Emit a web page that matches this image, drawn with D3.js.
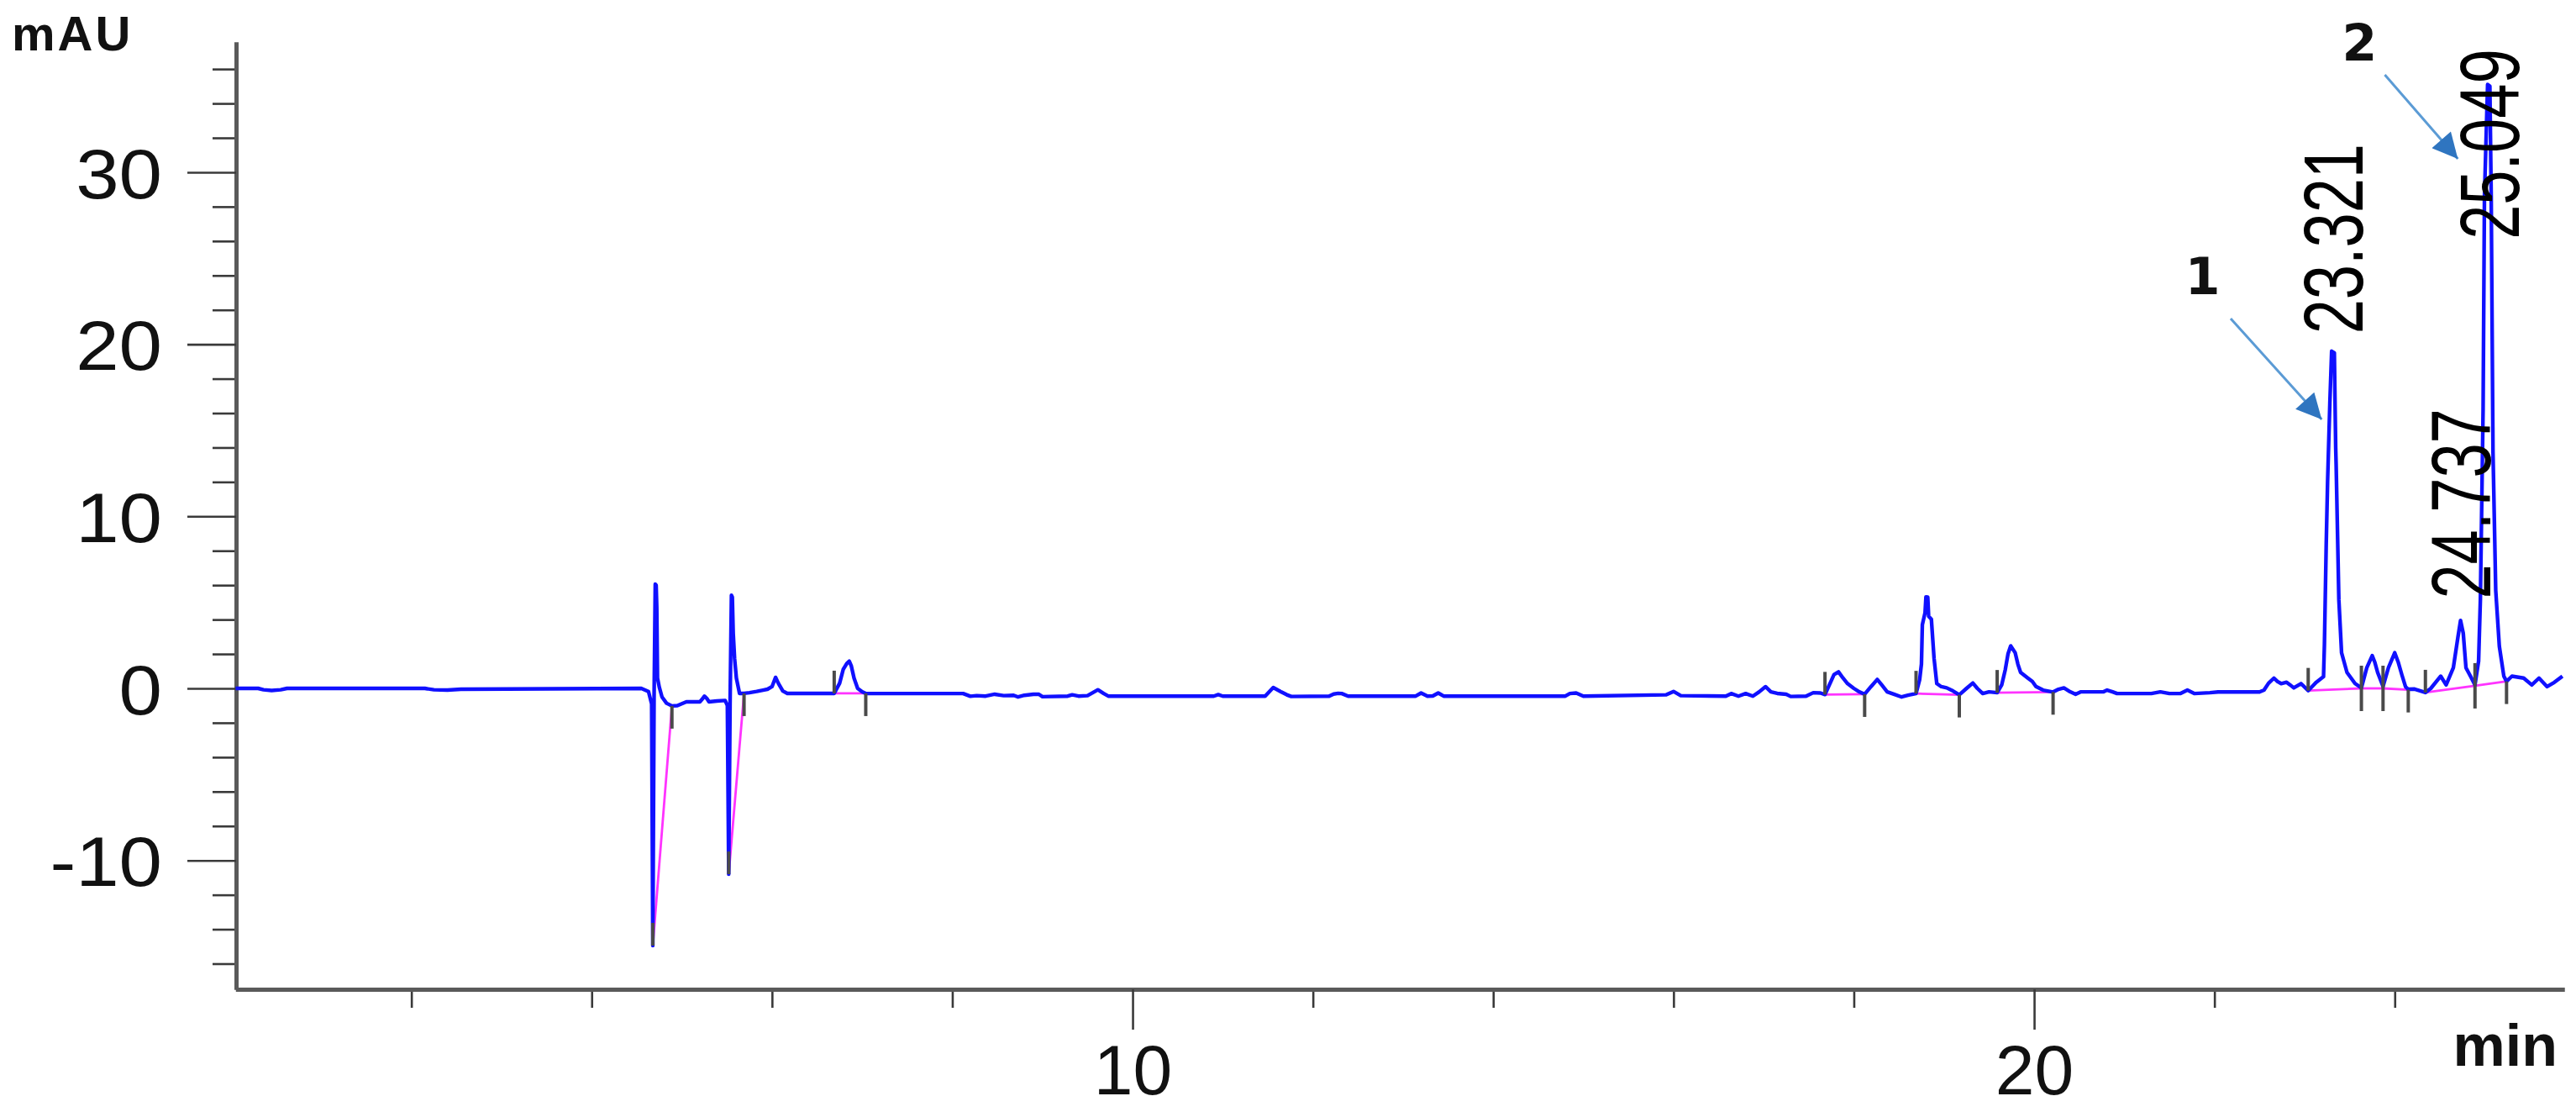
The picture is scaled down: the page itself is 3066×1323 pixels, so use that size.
<!DOCTYPE html>
<html><head><meta charset="utf-8">
<script src="https://cdn.jsdelivr.net/npm/d3@7"></script>
<style>html,body{margin:0;padding:0;background:#fff;overflow:hidden}svg{display:block}</style>
</head><body>
<svg id="chart" width="3066" height="1323"></svg>
<script>
// ---------- DATA ----------
const timeMin = [0.05,0.3,0.36,0.45,0.55,0.62,2.15,2.25,2.4,2.55,4.55,4.63,4.665,4.678,4.692,4.705,4.715,4.722,4.73,4.75,4.78,4.83,4.89,4.95,5.05,5.2,5.23,5.25,5.28,5.3,5.39,5.48,5.505,5.52,5.535,5.55,5.56,5.57,5.585,5.605,5.64,5.69,5.75,5.83,5.9,5.95,6.0,6.04,6.07,6.12,6.17,6.69,6.75,6.79,6.83,6.857,6.88,6.91,6.95,7.0,7.04,8.12,8.2,8.27,8.37,8.47,8.57,8.68,8.73,8.8,8.9,8.96,9.0,9.28,9.33,9.4,9.5,9.615,9.68,9.73,10.9,10.95,11.0,11.47,11.56,11.65,11.71,11.76,12.18,12.23,12.28,12.32,12.39,13.14,13.2,13.27,13.33,13.39,13.45,14.8,14.85,14.92,15.0,15.92,16.0,16.08,16.58,16.64,16.72,16.8,16.88,16.95,17.02,17.08,17.15,17.25,17.3,17.47,17.55,17.63,17.68,17.72,17.78,17.83,17.88,17.93,18.0,18.06,18.12,18.19,18.26,18.31,18.37,18.45,18.53,18.6,18.69,18.73,18.75,18.76,18.79,18.8,18.82,18.83,18.86,18.88,18.89,18.92,18.97,19.03,19.1,19.17,19.25,19.32,19.37,19.43,19.5,19.59,19.64,19.68,19.71,19.74,19.79,19.82,19.85,19.93,19.98,20.02,20.1,20.21,20.27,20.33,20.4,20.46,20.52,20.77,20.81,20.87,20.92,21.3,21.4,21.5,21.62,21.7,21.78,21.95,22.04,22.5,22.55,22.6,22.66,22.7,22.74,22.8,22.84,22.88,22.96,23.04,23.1,23.13,23.21,23.22,23.24,23.255,23.28,23.3,23.33,23.345,23.35,23.38,23.41,23.47,23.56,23.63,23.69,23.75,23.78,23.81,23.87,23.93,24.0,24.04,24.08,24.12,24.15,24.22,24.34,24.4,24.51,24.57,24.65,24.7,24.73,24.76,24.79,24.84,24.89,24.93,24.95,24.98,24.995,25.03,25.055,25.07,25.09,25.12,25.16,25.21,25.24,25.3,25.43,25.52,25.6,25.69,25.77,25.86];
const signalMAU = [0,0,-0.08,-0.12,-0.08,0,0,-0.08,-0.1,-0.05,0,-0.18,-0.9,-14.95,-0.6,6.06,6.0,4.7,0.6,0.07,-0.5,-0.86,-1.02,-1.0,-0.78,-0.78,-0.6,-0.45,-0.6,-0.78,-0.73,-0.7,-1.0,-10.8,-0.9,5.41,5.3,3.2,1.74,0.6,-0.29,-0.29,-0.25,-0.18,-0.1,-0.05,0.1,0.64,0.3,-0.15,-0.29,-0.29,0.3,1.1,1.45,1.58,1.3,0.6,0.0,-0.2,-0.29,-0.3,-0.46,-0.42,-0.45,-0.34,-0.42,-0.4,-0.5,-0.4,-0.34,-0.34,-0.48,-0.45,-0.37,-0.45,-0.42,-0.08,-0.3,-0.45,-0.45,-0.36,-0.45,-0.45,0.05,-0.21,-0.37,-0.47,-0.45,-0.33,-0.29,-0.3,-0.45,-0.45,-0.27,-0.45,-0.44,-0.27,-0.45,-0.45,-0.3,-0.27,-0.45,-0.37,-0.18,-0.42,-0.45,-0.3,-0.45,-0.3,-0.45,-0.2,0.1,-0.2,-0.29,-0.34,-0.47,-0.45,-0.25,-0.27,-0.36,0.1,0.8,0.96,0.6,0.28,0.0,-0.2,-0.34,0.1,0.52,0.2,-0.2,-0.35,-0.5,-0.4,-0.3,0.5,1.42,3.7,4.4,5.32,5.3,4.19,4.02,2.5,1.74,0.28,0.1,0.03,-0.15,-0.37,0.0,0.31,0.0,-0.3,-0.2,-0.25,0.2,1.09,2.0,2.47,2.07,1.4,0.93,0.6,0.4,0.11,-0.1,-0.21,-0.05,0.03,-0.2,-0.34,-0.2,-0.2,-0.1,-0.2,-0.3,-0.3,-0.2,-0.3,-0.3,-0.1,-0.3,-0.25,-0.21,-0.21,-0.1,0.3,0.6,0.4,0.28,0.36,0.2,0.03,0.28,-0.13,0.2,0.36,0.68,2.56,8.42,12.0,16.56,19.6,19.5,14.0,12.98,5.16,2.07,0.93,0.28,0.03,1.2,1.9,1.5,0.93,0.11,1.2,2.07,1.5,0.77,0.09,-0.05,-0.04,-0.24,0.0,0.71,0.2,1.2,2.95,3.95,3.2,1.2,0.71,0.2,1.58,5.2,16.2,28.6,35.1,35.0,28.6,13.7,5.7,2.45,0.71,0.41,0.71,0.6,0.2,0.6,0.1,0.35,0.71];

// integration events (start / end of each integrated peak)
const peakStartT = [4.678,5.52,6.69,17.68,18.69,19.59,23.04,23.63,23.87,24.34,24.89];
const peakStartV = [-14.95,-10.8,-0.29,-0.36,-0.3,-0.25,-0.13,0.0,0.0,-0.24,0.15];
const peakEndT   = [4.89,5.69,7.04,18.12,19.17,20.21,23.63,23.87,24.15,24.89,25.24];
const peakEndV   = [-1.02,-0.29,-0.29,-0.34,-0.37,-0.21,0.0,0.0,-0.08,0.15,0.41];

// retention time labels
const rtLabels = ["23.321","24.737","25.049"];
const rtLabelT = [23.321,24.737,25.049];
const rtLabelV = [20.6,5.2,26.1];

// compound number annotations with arrows
const cmpLabels = ["1","2"];
const cmpLabelT = [21.87,23.61];
const cmpLabelV = [22.9,36.5];
const arrowFromT = [22.18,23.89];
const arrowFromV = [21.5,35.66];
const arrowToT = [23.19,24.70];
const arrowToV = [15.63,30.78];

// axes
const yMajorTicks = [-10,0,10,20,30];
const yMajorLabels = ["-10","0","10","20","30"];
const yMinorTicks = [-16,-14,-12,-8,-6,-4,-2,2,4,6,8,12,14,16,18,22,24,26,28,32,34,36];
const xMajorTicks = [10,20];
const xMajorLabels = ["10","20"];
const xMinorTicks = [2,4,6,8,12,14,16,18,22,24];
const yUnit = "mAU";
const xUnit = "min";

// ---------- DRAW ----------
const svg = d3.select("#chart");
const FONT = "'Liberation Sans', Arial, Helvetica, sans-serif";
const x = d3.scaleLinear().domain([0.05, 25.88]).range([280.4, 3052]);
const y = d3.scaleLinear().domain([-17.49, 37.57]).range([1177, 50]);
const AX = 281, AY = 1177;

// y axis
const gyMinor = svg.append("g").attr("transform",`translate(${AX},0)`)
  .call(d3.axisLeft(y).tickValues(yMinorTicks).tickSize(28).tickSizeOuter(0).tickFormat(""));
const gy = svg.append("g").attr("transform",`translate(${AX},0)`)
  .call(d3.axisLeft(y).tickValues(yMajorTicks).tickSize(58).tickSizeOuter(0)
        .tickFormat((d,i)=>yMajorLabels[i]));
[gyMinor, gy].forEach(g=>{
  g.selectAll(".tick line").attr("stroke","#3a3a3a").attr("stroke-width",2.6);
  g.select(".domain").attr("stroke","#5a5a5a").attr("stroke-width",5);
});
const ySX = 1.1;
gy.selectAll(".tick text")
  .attr("font-family",FONT).attr("font-size",84).attr("fill","#111")
  .attr("x",-88/ySX).attr("dy","0.36em").attr("transform",`scale(${ySX},1)`);

// x axis
const gxMinor = svg.append("g").attr("transform",`translate(0,${AY})`)
  .call(d3.axisBottom(x).tickValues(xMinorTicks).tickSize(22).tickSizeOuter(0).tickFormat(""));
const gx = svg.append("g").attr("transform",`translate(0,${AY})`)
  .call(d3.axisBottom(x).tickValues(xMajorTicks).tickSize(48).tickSizeOuter(0)
        .tickFormat((d,i)=>xMajorLabels[i]));
[gxMinor, gx].forEach(g=>{
  g.selectAll(".tick line").attr("stroke","#3a3a3a").attr("stroke-width",2.6);
  g.select(".domain").attr("stroke","#5a5a5a").attr("stroke-width",5);
});
gx.selectAll(".tick text")
  .attr("font-family",FONT).attr("font-size",84).attr("fill","#111")
  .attr("y",125).attr("dy",0);

// unit labels
svg.append("text").attr("x",14).attr("y",60).attr("font-family",FONT)
  .attr("font-size",58).attr("font-weight","bold").attr("letter-spacing",3)
  .attr("fill","#111").text(yUnit);
svg.append("text").attr("x",3044).attr("y",1268).attr("text-anchor","end")
  .attr("font-family",FONT).attr("font-size",70).attr("font-weight","bold")
  .attr("fill","#111").text(xUnit);

// integration baselines
const peaks = peakStartT.map((t,i)=>({ts:t,vs:peakStartV[i],te:peakEndT[i],ve:peakEndV[i]}));
svg.append("g").selectAll("line").data(peaks).join("line")
  .attr("x1",d=>x(d.ts)).attr("y1",d=>y(d.vs)).attr("x2",d=>x(d.te)).attr("y2",d=>y(d.ve))
  .attr("stroke","#ff33ff").attr("stroke-width",2.8);

// trace
const trace = timeMin.map((t,i)=>({t, v:signalMAU[i]}));
svg.append("path").datum(trace)
  .attr("fill","none").attr("stroke","#1010ff").attr("stroke-width",4.4)
  .attr("stroke-linejoin","round")
  .attr("d", d3.line().x(d=>x(d.t)).y(d=>y(d.v)));

// integration tick marks
const marks = svg.append("g").attr("stroke","#4a4a4a").attr("stroke-width",4);
marks.selectAll(".ms").data(peaks).join("line").attr("class","ms")
  .attr("x1",d=>x(d.ts)).attr("x2",d=>x(d.ts)).attr("y1",d=>y(d.vs)).attr("y2",d=>y(d.vs)-27);
marks.selectAll(".me").data(peaks).join("line").attr("class","me")
  .attr("x1",d=>x(d.te)).attr("x2",d=>x(d.te)).attr("y1",d=>y(d.ve)).attr("y2",d=>y(d.ve)+27);

// retention time labels (rotated)
const rtSX = 0.74;
svg.append("g").selectAll("text").data(rtLabels).join("text")
  .attr("transform",(d,i)=>`translate(${x(rtLabelT[i])+35},${y(rtLabelV[i])}) rotate(-90) scale(${rtSX},1)`)
  .attr("font-family",FONT).attr("font-size",100).attr("fill","#000")
  .text(d=>d);

// compound annotations
svg.append("defs").append("marker").attr("id","ah").attr("viewBox","0 0 10 10")
  .attr("refX",10).attr("refY",5).attr("markerUnits","userSpaceOnUse")
  .attr("markerWidth",42).attr("markerHeight",30).attr("orient","auto")
  .append("path").attr("d","M0,0 L10,5 L0,10 Z").attr("fill","#2f75c0");
svg.append("g").selectAll("line").data(cmpLabels).join("line")
  .attr("x1",(d,i)=>x(arrowFromT[i])).attr("y1",(d,i)=>y(arrowFromV[i]))
  .attr("x2",(d,i)=>x(arrowToT[i])).attr("y2",(d,i)=>y(arrowToV[i]))
  .attr("stroke","#5b9bd5").attr("stroke-width",3).attr("marker-end","url(#ah)");
svg.append("g").selectAll("text").data(cmpLabels).join("text")
  .attr("x",(d,i)=>x(cmpLabelT[i])).attr("y",(d,i)=>y(cmpLabelV[i]))
  .attr("text-anchor","middle").attr("font-family","'DejaVu Sans', Verdana, sans-serif")
  .attr("font-weight","bold").attr("font-size",60).attr("fill","#111").text(d=>d);
</script>
</body></html>
